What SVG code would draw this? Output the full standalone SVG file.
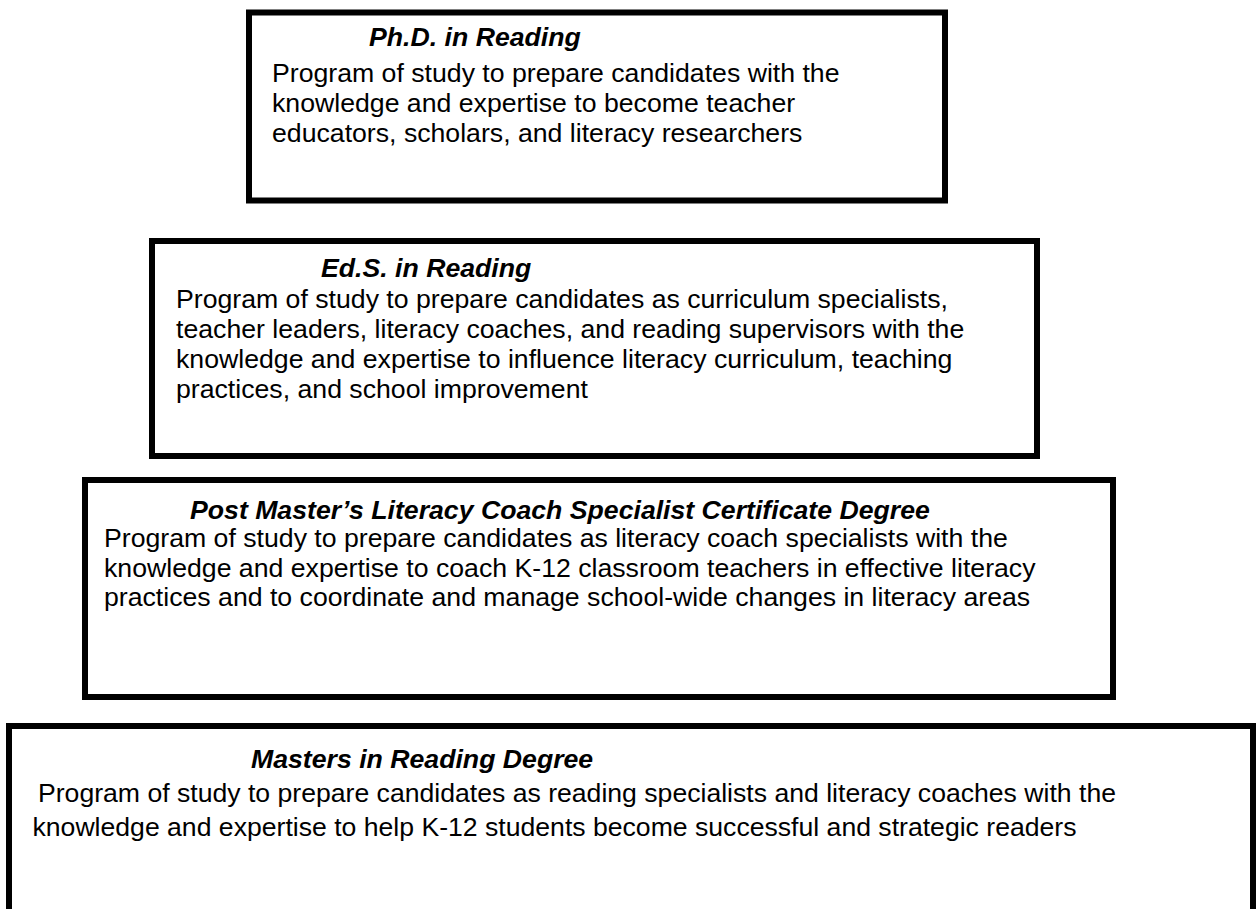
<svg xmlns="http://www.w3.org/2000/svg" width="1258" height="909" viewBox="0 0 1258 909">
<style>
.box{fill:#fff;stroke:#000;stroke-width:6}
.t{font-family:"Liberation Sans",Arial,sans-serif;font-size:26.67px;font-weight:bold;font-style:italic;fill:#000}
.b{font-family:"Liberation Sans",Arial,sans-serif;font-size:26.67px;fill:#000}
</style>
<rect width="1258" height="909" fill="#fff"/>
<g id="phd">
<rect class="box" x="249" y="12.5" width="696" height="188"/>
<text class="t" x="369" y="46">Ph.D. in Reading</text>
<text class="b" x="272" y="82">Program of study to prepare candidates with the</text>
<text class="b" x="272" y="112">knowledge and expertise to become teacher</text>
<text class="b" x="272" y="142">educators, scholars, and literacy researchers</text>
</g>
<g id="eds">
<rect class="box" x="152" y="241" width="885" height="215"/>
<text class="t" x="321" y="277">Ed.S. in Reading</text>
<text class="b" x="176" y="308">Program of study to prepare candidates as curriculum specialists,</text>
<text class="b" x="176" y="338">teacher leaders, literacy coaches, and reading supervisors with the</text>
<text class="b" x="176" y="368">knowledge and expertise to influence literacy curriculum, teaching</text>
<text class="b" x="176" y="398">practices, and school improvement</text>
</g>
<g id="postmasters">
<rect class="box" x="85" y="480" width="1028" height="217"/>
<text class="t" x="190" y="519">Post Master’s Literacy Coach Specialist Certificate Degree</text>
<text class="b" x="104" y="547">Program of study to prepare candidates as literacy coach specialists with the</text>
<text class="b" x="104" y="577">knowledge and expertise to coach K-12 classroom teachers in effective literacy</text>
<text class="b" x="104" y="606">practices and to coordinate and manage school-wide changes in literacy areas</text>
</g>
<g id="masters">
<rect class="box" x="9" y="726" width="1244" height="300"/>
<text class="t" x="251" y="768">Masters in Reading Degree</text>
<text class="b" x="38" y="802" textLength="1078" lengthAdjust="spacingAndGlyphs">Program of study to prepare candidates as reading specialists and literacy coaches with the</text>
<text class="b" x="32.5" y="836" textLength="1044" lengthAdjust="spacingAndGlyphs">knowledge and expertise to help K-12 students become successful and strategic readers</text>
</g>
<g id="connectors"></g>
</svg>
